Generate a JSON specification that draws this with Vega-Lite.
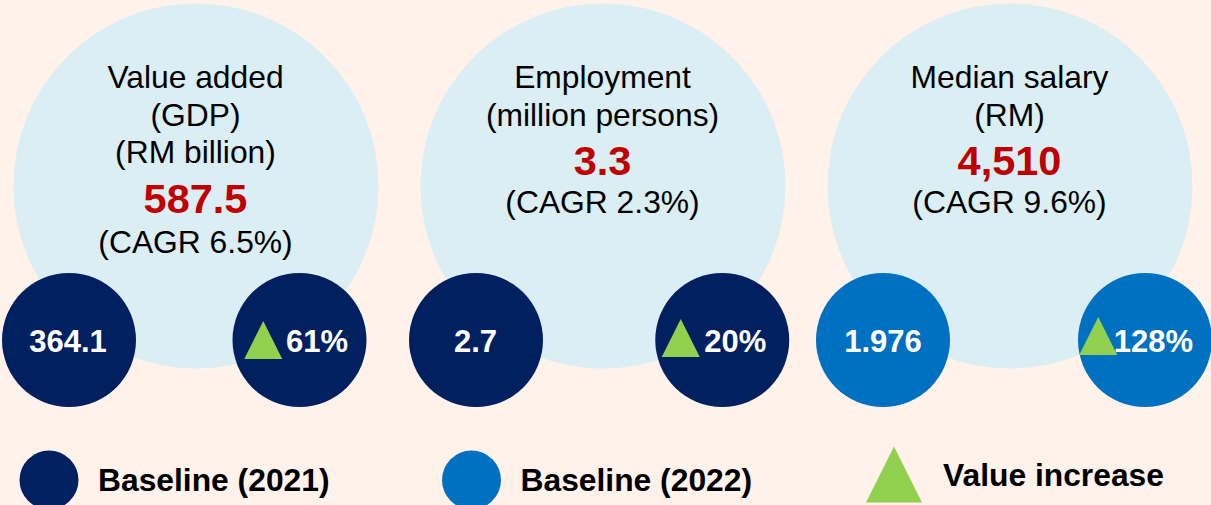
{
  "$schema": "https://vega.github.io/schema/vega-lite/v6.json",
  "width": 1211,
  "height": 505,
  "autosize": "none",
  "padding": 0,
  "background": "#FEF2EB",
  "config": {"view": {"stroke": null}, "text": {"font": "Liberation Sans"}, "scale": {"pointPadding": 0}},
  "datasets": {
    "metrics": [
      {"indicator": "Value added", "baselineValue": "364.1", "baselineYear": "2021", "change": "61%"},
      {"indicator": "Employment", "baselineValue": "2.7", "baselineYear": "2021", "change": "20%"},
      {"indicator": "Median salary", "baselineValue": "1.976", "baselineYear": "2022", "change": "128%"}
    ],
    "labels": [
      {"indicator": "Value added", "role": "title", "line": 1, "text": "Value added"},
      {"indicator": "Value added", "role": "title", "line": 2, "text": "(GDP)"},
      {"indicator": "Value added", "role": "title", "line": 3, "text": "(RM billion)"},
      {"indicator": "Value added", "role": "value", "line": 4, "text": "587.5"},
      {"indicator": "Value added", "role": "cagr", "line": 5, "text": "(CAGR 6.5%)"},
      {"indicator": "Employment", "role": "title", "line": 1, "text": "Employment"},
      {"indicator": "Employment", "role": "title", "line": 2, "text": "(million persons)"},
      {"indicator": "Employment", "role": "value", "line": 3, "text": "3.3"},
      {"indicator": "Employment", "role": "cagr", "line": 4, "text": "(CAGR 2.3%)"},
      {"indicator": "Median salary", "role": "title", "line": 1, "text": "Median salary"},
      {"indicator": "Median salary", "role": "title", "line": 2, "text": "(RM)"},
      {"indicator": "Median salary", "role": "value", "line": 3, "text": "4,510"},
      {"indicator": "Median salary", "role": "cagr", "line": 4, "text": "(CAGR 9.6%)"}
    ],
    "legend": [
      {"item": "Baseline (2021)", "year": "2021", "symbol": "circle"},
      {"item": "Baseline (2022)", "year": "2022", "symbol": "circle"},
      {"item": "Value increase", "year": null, "symbol": "triangle"}
    ]
  },
  "resolve": {"scale": {"x": "independent", "y": "independent"}},
  "layer": [
    {
      "data": {"name": "metrics"},
      "mark": {"type": "point", "shape": "circle", "filled": true, "opacity": 1, "size": 133225, "color": "#DBEEF3", "strokeWidth": 0},
      "encoding": {
        "x": {"field": "indicator", "type": "nominal", "axis": null, "scale": {"type": "point", "padding": 0, "domain": ["Value added", "Employment", "Median salary"], "range": [196, 1010]}},
        "y": {"field": "indicator", "type": "nominal", "axis": null, "scale": {"type": "point", "padding": 0, "domain": ["Value added", "Employment", "Median salary"], "range": [186, 186]}}
      }
    },
    {
      "data": {"name": "labels"},
      "transform": [{"filter": "datum.role === 'title'"}],
      "mark": {"type": "text", "fontSize": 31.8, "align": "center", "baseline": "alphabetic", "color": "#000000"},
      "encoding": {
        "x": {"field": "indicator", "type": "nominal", "axis": null, "scale": {"type": "point", "padding": 0, "domain": ["Value added", "Employment", "Median salary"], "range": [195.5, 1009.5]}},
        "y": {"field": "line", "type": "quantitative", "axis": null, "scale": {"domain": [1, 5], "range": [88, 238], "zero": false, "nice": false}},
        "text": {"field": "text"}
      }
    },
    {
      "data": {"name": "labels"},
      "transform": [{"filter": "datum.role === 'value'"}],
      "mark": {"type": "text", "fontSize": 41.5, "fontWeight": "bold", "align": "center", "baseline": "alphabetic", "color": "#C00000"},
      "encoding": {
        "x": {"field": "indicator", "type": "nominal", "axis": null, "scale": {"type": "point", "padding": 0, "domain": ["Value added", "Employment", "Median salary"], "range": [195.5, 1009.5]}},
        "y": {"field": "line", "type": "quantitative", "axis": null, "scale": {"domain": [3, 4], "range": [175, 213], "zero": false, "nice": false}},
        "text": {"field": "text"}
      }
    },
    {
      "data": {"name": "labels"},
      "transform": [{"filter": "datum.role === 'cagr'"}],
      "mark": {"type": "text", "fontSize": 31.8, "align": "center", "baseline": "alphabetic", "color": "#000000"},
      "encoding": {
        "x": {"field": "indicator", "type": "nominal", "axis": null, "scale": {"type": "point", "padding": 0, "domain": ["Value added", "Employment", "Median salary"], "range": [195.5, 1009.5]}},
        "y": {"field": "line", "type": "quantitative", "axis": null, "scale": {"domain": [4, 5], "range": [213, 253], "zero": false, "nice": false}},
        "text": {"field": "text"}
      }
    },
    {
      "data": {"name": "metrics"},
      "mark": {"type": "point", "shape": "circle", "filled": true, "opacity": 1, "size": 17956, "strokeWidth": 0},
      "encoding": {
        "x": {"field": "indicator", "type": "nominal", "axis": null, "scale": {"type": "point", "padding": 0, "domain": ["Value added", "Employment", "Median salary"], "range": [69, 883]}},
        "y": {"field": "indicator", "type": "nominal", "axis": null, "scale": {"type": "point", "padding": 0, "domain": ["Value added", "Employment", "Median salary"], "range": [340, 340]}},
        "color": {"field": "baselineYear", "type": "nominal", "legend": null, "scale": {"domain": ["2021", "2022"], "range": ["#002060", "#0070C0"]}}
      }
    },
    {
      "data": {"name": "metrics"},
      "mark": {"type": "point", "shape": "circle", "filled": true, "opacity": 1, "size": 17956, "strokeWidth": 0},
      "encoding": {
        "x": {"field": "indicator", "type": "nominal", "axis": null, "scale": {"type": "point", "padding": 0, "domain": ["Value added", "Employment", "Median salary"], "range": [299.5, 1145]}},
        "y": {"field": "indicator", "type": "nominal", "axis": null, "scale": {"type": "point", "padding": 0, "domain": ["Value added", "Employment", "Median salary"], "range": [340, 340]}},
        "color": {"field": "baselineYear", "type": "nominal", "legend": null, "scale": {"domain": ["2021", "2022"], "range": ["#002060", "#0070C0"]}}
      }
    },
    {
      "data": {"name": "metrics"},
      "mark": {"type": "text", "fontSize": 31, "fontWeight": "bold", "align": "center", "baseline": "alphabetic", "color": "#FFFFFF"},
      "encoding": {
        "x": {"field": "indicator", "type": "nominal", "axis": null, "scale": {"type": "point", "padding": 0, "domain": ["Value added", "Employment", "Median salary"], "range": [68, 883]}},
        "y": {"field": "indicator", "type": "nominal", "axis": null, "scale": {"type": "point", "padding": 0, "domain": ["Value added", "Employment", "Median salary"], "range": [352, 352]}},
        "text": {"field": "baselineValue"}
      }
    },
    {
      "data": {"name": "metrics"},
      "mark": {"type": "text", "fontSize": 31, "fontWeight": "bold", "align": "center", "baseline": "alphabetic", "color": "#FFFFFF"},
      "encoding": {
        "x": {"field": "indicator", "type": "nominal", "axis": null, "scale": {"type": "point", "padding": 0, "domain": ["Value added", "Employment", "Median salary"], "range": [317, 1153.5]}},
        "y": {"field": "indicator", "type": "nominal", "axis": null, "scale": {"type": "point", "padding": 0, "domain": ["Value added", "Employment", "Median salary"], "range": [352, 352]}},
        "text": {"field": "change"}
      }
    },
    {
      "data": {"name": "metrics"},
      "mark": {"type": "point", "shape": "M0,-1L-1,1L1,1Z", "filled": true, "opacity": 1, "size": 1444, "color": "#92D050", "strokeWidth": 0},
      "encoding": {
        "x": {"field": "indicator", "type": "nominal", "axis": null, "scale": {"type": "point", "padding": 0, "domain": ["Value added", "Employment", "Median salary"], "range": [263.25, 1098.25]}},
        "y": {"field": "indicator", "type": "nominal", "axis": null, "scale": {"type": "point", "padding": 0, "domain": ["Value added", "Employment", "Median salary"], "range": [340, 336]}}
      }
    },
    {
      "data": {"name": "legend"},
      "transform": [{"filter": "datum.symbol === 'circle'"}],
      "mark": {"type": "point", "shape": "circle", "filled": true, "opacity": 1, "size": 3481, "strokeWidth": 0},
      "encoding": {
        "x": {"field": "item", "type": "nominal", "axis": null, "scale": {"type": "point", "padding": 0, "domain": ["Baseline (2021)", "Baseline (2022)", "Value increase"], "range": [49, 894]}},
        "y": {"field": "item", "type": "nominal", "axis": null, "scale": {"type": "point", "padding": 0, "domain": ["Baseline (2021)", "Baseline (2022)", "Value increase"], "range": [480, 480]}},
        "color": {"field": "year", "type": "nominal", "legend": null, "scale": {"domain": ["2021", "2022"], "range": ["#002060", "#0070C0"]}}
      }
    },
    {
      "data": {"name": "legend"},
      "transform": [{"filter": "datum.symbol === 'triangle'"}],
      "mark": {"type": "point", "shape": "M0,-1L-1,1L1,1Z", "filled": true, "opacity": 1, "size": 3136, "color": "#92D050", "strokeWidth": 0},
      "encoding": {
        "x": {"field": "item", "type": "nominal", "axis": null, "scale": {"type": "point", "padding": 0, "domain": ["Baseline (2021)", "Baseline (2022)", "Value increase"], "range": [49, 894]}},
        "y": {"field": "item", "type": "nominal", "axis": null, "scale": {"type": "point", "padding": 0, "domain": ["Baseline (2021)", "Baseline (2022)", "Value increase"], "range": [474.5, 474.5]}}
      }
    },
    {
      "data": {"name": "legend"},
      "mark": {"type": "text", "fontSize": 31.8, "fontWeight": "bold", "align": "left", "baseline": "middle", "color": "#000000"},
      "encoding": {
        "x": {"field": "item", "type": "nominal", "axis": null, "scale": {"type": "point", "padding": 0, "domain": ["Baseline (2021)", "Baseline (2022)", "Value increase"], "range": [98, 943]}},
        "y": {"field": "symbol", "type": "nominal", "axis": null, "scale": {"type": "point", "domain": ["circle", "triangle"], "range": [481, 476], "padding": 0}},
        "text": {"field": "item"}
      }
    }
  ]
}
